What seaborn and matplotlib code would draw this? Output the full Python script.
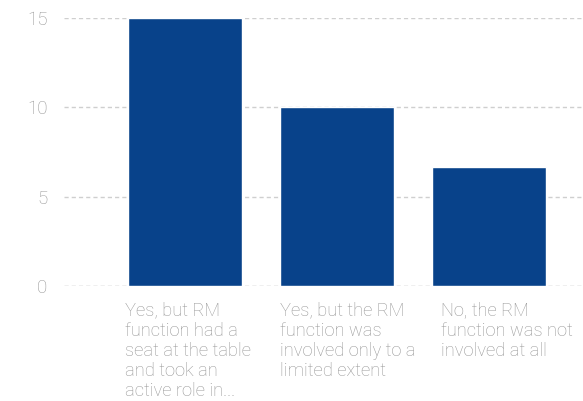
import matplotlib
matplotlib.use("Agg")
import matplotlib.pyplot as plt
import matplotlib.transforms as mtransforms
import seaborn as sns
import pandas as pd

categories = [
    "Yes, but RM\nfunction had a\nseat at the table\nand took an\nactive role in...",
    "Yes, but the RM\nfunction was\ninvolved only to a\nlimited extent",
    "No, the RM\nfunction was not\ninvolved at all",
]
values = [15, 10, 6.67]
y_ticks = [0, 5, 10, 15]

BAR_COLOR = "#08428a"
TEXT_COLOR = "#969696"
GRID_COLOR = "#cfcfcf"

sns.set_theme(style="white")
plt.rcParams["font.family"] = ["Roboto", "DejaVu Sans"]

df = pd.DataFrame({"category": categories, "value": values})

fig = plt.figure(figsize=(5.83, 4.01), dpi=100)
ax = fig.add_axes([0.1098, 0.2868, 0.8902, 0.6683])

sns.barplot(data=df, x="category", y="value", color=BAR_COLOR,
            width=0.75, saturation=1, ax=ax, zorder=3)

ax.set_ylim(0, 15)
ax.set_xlim(-0.796, 2.618)
ax.set_yticks(y_ticks)
ax.set_yticklabels([str(t) for t in y_ticks], color=TEXT_COLOR,
                   fontsize=13.5, fontweight="light")
ax.tick_params(axis="y", length=0, pad=12)
ax.set_xticks([])
ax.set_xlabel("")
ax.set_ylabel("")

for t in y_ticks:
    ax.axhline(t, color="#b0b0b0" if t == 0 else GRID_COLOR, lw=1,
               ls=(0, (3, 2.2)), zorder=1)

for s in ax.spines.values():
    s.set_visible(False)

# category labels, left-aligned beneath each bar
offsets = [-0.395, -0.375, -0.316]
trans = mtransforms.blended_transform_factory(ax.transData, ax.transAxes)
for i, (lab, off) in enumerate(zip(categories, offsets)):
    ax.text(i + off, -0.058, lab, transform=trans, ha="left", va="top",
            color=TEXT_COLOR, fontsize=13.2, fontweight="light",
            linespacing=1.16)

fig.savefig("out.png", dpi=100)
